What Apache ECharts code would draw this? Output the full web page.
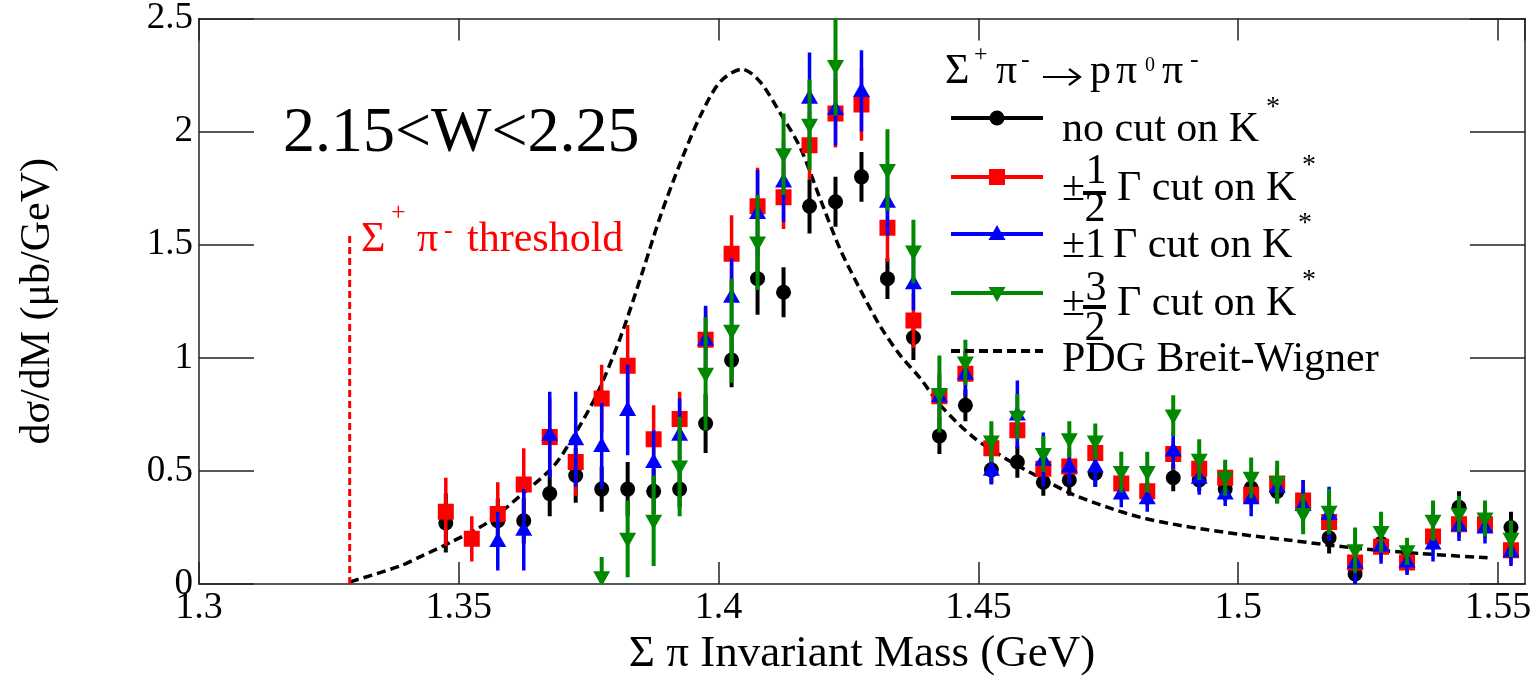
<!DOCTYPE html>
<html><head><meta charset="utf-8">
<script src="https://cdn.jsdelivr.net/npm/echarts@6/dist/echarts.min.js"></script>
<style>html,body{margin:0;padding:0;background:#fff}#chart{width:1539px;height:682px}</style>
</head><body><div id="chart"></div>
<script>
// ---- data ----
const mass = [1.3475, 1.3525, 1.3575, 1.3625, 1.3675, 1.3725, 1.3775, 1.3825, 1.3875, 1.3925,
  1.3975, 1.4025, 1.4075, 1.4125, 1.4175, 1.4225, 1.4275, 1.4325, 1.4375, 1.4425,
  1.4475, 1.4525, 1.4575, 1.4625, 1.4675, 1.4725, 1.4775, 1.4825, 1.4875, 1.4925,
  1.4975, 1.5025, 1.5075, 1.5125, 1.5175, 1.5225, 1.5275, 1.5325, 1.5375, 1.5425,
  1.5475, 1.5525];

const noCutVal = [0.27, null, 0.28, 0.28, 0.40, 0.48, 0.42, 0.42, 0.41, 0.42,
  0.71, 0.99, 1.35, 1.29, 1.67, 1.69, 1.80, 1.35, 1.09, 0.655,
  0.79, 0.505, 0.54, 0.45, 0.46, 0.49, 0.44, 0.40, 0.47, 0.46,
  0.42, 0.425, 0.41, 0.37, 0.205, 0.045, 0.18, 0.11, 0.20, 0.34,
  0.27, 0.25];
const noCutErr = [0.13, null, 0.10, 0.10, 0.10, 0.12, 0.10, 0.12, 0.10, 0.08,
  0.13, 0.12, 0.16, 0.11, 0.12, 0.11, 0.11, 0.09, 0.10, 0.08,
  0.07, 0.06, 0.07, 0.06, 0.07, 0.06, 0.05, 0.05, 0.06, 0.05,
  0.05, 0.05, 0.05, 0.05, 0.07, 0.05, 0.05, 0.04, 0.04, 0.07,
  0.05, 0.07];

const halfVal = [0.32, 0.20, 0.31, 0.44, 0.65, 0.54, 0.82, 0.965, 0.64, 0.73,
  1.08, 1.46, 1.67, 1.71, 1.94, 2.08, 2.12, 1.575, 1.165, 0.83,
  0.93, 0.60, 0.68, 0.51, 0.52, 0.58, 0.445, 0.41, 0.575, 0.51,
  0.47, 0.395, 0.445, 0.37, 0.275, 0.095, 0.165, 0.095, 0.21, 0.265,
  0.265, 0.15];
const halfErr = [0.15, 0.10, 0.14, 0.16, 0.17, 0.15, 0.15, 0.18, 0.15, 0.12,
  0.14, 0.17, 0.17, 0.14, 0.15, 0.15, 0.16, 0.15, 0.12, 0.10,
  0.10, 0.08, 0.08, 0.07, 0.07, 0.07, 0.07, 0.06, 0.07, 0.06,
  0.06, 0.06, 0.06, 0.09, 0.08, 0.06, 0.06, 0.05, 0.06, 0.06,
  0.06, 0.06];

const oneVal = [null, null, 0.19, 0.24, 0.66, 0.64, 0.61, 0.77, 0.54, 0.66,
  1.08, 1.27, 1.64, 1.78, 2.15, 2.10, 2.18, 1.69, 1.33, 0.83,
  0.93, 0.505, 0.75, 0.55, 0.52, 0.52, 0.40, 0.38, 0.59, 0.47,
  0.40, 0.38, 0.43, 0.35, 0.31, 0.095, 0.17, 0.10, 0.18, 0.26,
  0.25, 0.145];
const oneErr = [null, null, 0.13, 0.18, 0.19, 0.21, 0.19, 0.20, 0.14, 0.16,
  0.15, 0.17, 0.19, 0.18, 0.20, 0.16, 0.18, 0.15, 0.12, 0.10,
  0.10, 0.065, 0.15, 0.12, 0.08, 0.09, 0.06, 0.06, 0.08, 0.075,
  0.055, 0.08, 0.07, 0.11, 0.12, 0.095, 0.08, 0.06, 0.08, 0.07,
  0.07, 0.065];

const threeHalfVal = [null, null, null, null, null, null, 0.03, 0.20, 0.28, 0.52,
  0.93, 1.12, 1.51, 1.90, 2.03, 2.29, null, 1.83, 1.47, 0.84,
  0.98, 0.63, 0.74, 0.575, 0.64, 0.63, 0.495, 0.495, 0.745, 0.55,
  0.47, 0.47, 0.45, 0.31, 0.32, 0.15, 0.23, 0.145, 0.28, 0.31,
  0.29, 0.20];
const threeHalfErr = [null, null, null, null, null, null, 0.09, 0.17, 0.20, 0.22,
  0.25, 0.23, 0.21, 0.18, 0.20, 0.22, null, 0.18, 0.14, 0.17,
  0.10, 0.09, 0.10, 0.08, 0.08, 0.08, 0.09, 0.09, 0.09, 0.09,
  0.08, 0.09, 0.095, 0.09, 0.10, 0.10, 0.09, 0.06, 0.09, 0.08,
  0.08, 0.08];

const bwMass = [1.3291, 1.3387, 1.3425, 1.3489, 1.3554, 1.3618, 1.3682, 1.3720, 1.3766, 1.3811,
  1.3855, 1.3887, 1.3926, 1.3965, 1.4003, 1.4045, 1.4080, 1.4119, 1.4157, 1.4196,
  1.4234, 1.4273, 1.4311, 1.4350, 1.4388, 1.4427, 1.4490, 1.4556, 1.4619, 1.4683,
  1.4748, 1.4812, 1.4875, 1.4941, 1.5004, 1.5095, 1.5222, 1.5351, 1.5480];
const bwVal = [0.01, 0.08, 0.12, 0.19, 0.27, 0.39, 0.52, 0.65, 0.84, 1.09,
  1.39, 1.62, 1.86, 2.07, 2.22, 2.276, 2.22, 2.08, 1.93, 1.70,
  1.48, 1.30, 1.14, 1.01, 0.91, 0.79, 0.65, 0.55, 0.47, 0.395,
  0.34, 0.295, 0.265, 0.24, 0.22, 0.195, 0.16, 0.135, 0.116];

const thresholdMass = 1.3290;
const thresholdTop = 1.55;

const xTicks = { min: 1.3, max: 1.5552, step: 0.05 };
const yTicks = { min: 0, max: 2.5, step: 0.5 };

// ---- styles ----
const FONT = "'Liberation Serif', 'Times New Roman', serif";
const AX = '#222';
const C_BLACK = '#000000', C_RED = '#ff0000', C_BLUE = '#0000ff', C_GREEN = '#008800';

function pack(vals, errs) {
  const out = [];
  for (let i = 0; i < mass.length; i++) if (vals[i] != null) out.push([mass[i], vals[i], errs[i]]);
  return out;
}

function markerEl(kind, cx, cy, color) {
  if (kind === 'circle') return { type: 'circle', shape: { cx, cy, r: 7.5 }, style: { fill: color } };
  if (kind === 'square') return { type: 'rect', shape: { x: cx - 8, y: cy - 8, width: 16, height: 16 }, style: { fill: color } };
  if (kind === 'up') return { type: 'polygon', shape: { points: [[cx, cy - 9], [cx - 8.5, cy + 6], [cx + 8.5, cy + 6]] }, style: { fill: color } };
  return { type: 'polygon', shape: { points: [[cx, cy + 9], [cx - 8.5, cy - 6], [cx + 8.5, cy - 6]] }, style: { fill: color } };
}

function errSeries(name, vals, errs, kind, color, lw) {
  return {
    type: 'custom', name, clip: true, data: pack(vals, errs),
    encode: { x: 0, y: 1 },
    renderItem: function (params, api) {
      const x = api.value(0), y = api.value(1), e = api.value(2);
      const p = api.coord([x, y]);
      const hi = api.coord([x, y + e]);
      const lo = api.coord([x, y - e]);
      return {
        type: 'group',
        children: [
          { type: 'line', shape: { x1: p[0], y1: hi[1], x2: p[0], y2: lo[1] }, style: { stroke: color, lineWidth: lw } },
          markerEl(kind, p[0], p[1], color)
        ]
      };
    }
  };
}

function T(text, x, baseline, size, color, align, extra) {
  const el = {
    type: 'text', x: x, y: baseline - 0.30 * size, z: 100,
    style: { text: text, font: size + 'px ' + FONT, fill: color || '#000', textAlign: align || 'left', textVerticalAlign: 'middle' }
  };
  if (extra) Object.assign(el, extra);
  return el;
}

function legendLine(y, color, dashed) {
  return { type: 'line', z: 100, shape: { x1: 951, y1: y, x2: 1043, y2: y },
    style: { stroke: color, lineWidth: 4, lineDash: dashed ? [9, 5] : null } };
}
function legendMarker(kind, y, color) {
  const m = markerEl(kind, 997, y, color); m.z = 101; return m;
}
function fracBar(y) {
  return { type: 'rect', z: 100, shape: { x: 1083, y: y - 2, width: 23, height: 4 }, style: { fill: '#000' } };
}

const xLabelFmt = function (v) {
  const k = v / xTicks.step;
  if (Math.abs(k - Math.round(k)) > 1e-6) return '';
  return String(Math.round(v * 100) / 100);
};

const axisCommon = {
  axisLine: { show: true, onZero: false, lineStyle: { color: AX, width: 1.5 } },
  splitLine: { show: false }
};

const chart = echarts.init(document.getElementById('chart'), null, { renderer: 'canvas' });
chart.setOption({
  animation: false,
  backgroundColor: '#ffffff',
  grid: { left: 199, right: 14, top: 17, bottom: 80, containLabel: false },
  xAxis: [
    Object.assign({}, axisCommon, {
      type: 'value', min: xTicks.min, max: xTicks.max, interval: xTicks.step, position: 'bottom',
      axisTick: { inside: true, length: 22, lineStyle: { color: AX, width: 1.5 } },
      axisLabel: { fontFamily: FONT, fontSize: 38, color: '#000', margin: 5, formatter: xLabelFmt, showMaxLabel: false },
      name: 'Σ π Invariant Mass (GeV)', nameLocation: 'middle', nameGap: 34,
      nameTextStyle: { fontFamily: FONT, fontSize: 45, color: '#000' }
    }),
    Object.assign({}, axisCommon, {
      type: 'value', min: xTicks.min, max: xTicks.max, interval: xTicks.step, position: 'top',
      axisTick: { inside: true, length: 22, lineStyle: { color: AX, width: 1.5 } },
      axisLabel: { show: false }
    })
  ],
  yAxis: [
    Object.assign({}, axisCommon, {
      type: 'value', min: yTicks.min, max: yTicks.max, interval: yTicks.step, position: 'left',
      axisTick: { inside: true, length: 55, lineStyle: { color: AX, width: 1.5 } },
      axisLabel: { fontFamily: FONT, fontSize: 37, color: '#000', margin: 6 },
      name: 'dσ/dM (μb/GeV)', nameLocation: 'middle', nameGap: 140,
      nameTextStyle: { fontFamily: FONT, fontSize: 42, color: '#000' }
    }),
    Object.assign({}, axisCommon, {
      type: 'value', min: yTicks.min, max: yTicks.max, interval: yTicks.step, position: 'right',
      axisTick: { inside: true, length: 55, lineStyle: { color: AX, width: 1.5 } },
      axisLabel: { show: false }
    })
  ],
  series: [
    {
      type: 'line', name: 'PDG Breit-Wigner', smooth: 0.3, showSymbol: false, symbol: 'none',
      data: bwMass.map((m, i) => [m, bwVal[i]]),
      lineStyle: { color: '#000', width: 3.5, type: [9, 5] }, z: 1
    },
    {
      type: 'line', name: 'threshold', showSymbol: false, symbol: 'none',
      data: [[thresholdMass, 0], [thresholdMass, thresholdTop]],
      lineStyle: { color: C_RED, width: 3, type: [7, 4] }, z: 1
    },
    errSeries('no cut on K*', noCutVal, noCutErr, 'circle', C_BLACK, 4),
    errSeries('±1/2 Γ cut on K*', halfVal, halfErr, 'square', C_RED, 3.5),
    errSeries('±1 Γ cut on K*', oneVal, oneErr, 'up', C_BLUE, 3.5),
    errSeries('±3/2 Γ cut on K*', threeHalfVal, threeHalfErr, 'down', C_GREEN, 4)
  ],
  graphic: [
    T('2.15<W<2.25', 283, 153, 64),
    // threshold label
    T('Σ', 361, 253, 42, C_RED), T('+', 391, 221, 26, C_RED), T('π', 417, 253, 42, C_RED),
    T('-', 444, 239, 26, C_RED), T('threshold', 467, 253, 42, C_RED),
    // legend header
    T('Σ', 945, 85, 42), T('+', 974, 62, 24), T('π', 996, 85, 42), T('-', 1021, 68, 26),
    { type: 'line', z: 100, shape: { x1: 1043, y1: 77, x2: 1079, y2: 77 }, style: { stroke: '#000', lineWidth: 2.2 } },
    { type: 'polyline', z: 100, shape: { points: [[1069, 69], [1080, 77], [1069, 85]] }, style: { stroke: '#000', lineWidth: 2.2, fill: null } },
    T('p', 1090, 85, 42), T('π', 1116, 85, 42), T('0', 1145, 72, 20),
    T('π', 1162, 85, 42), T('-', 1190, 68, 26),
    // entry 1
    legendLine(118, C_BLACK), legendMarker('circle', 118, C_BLACK),
    T('no cut on K', 1062, 143, 42), T('*', 1266, 116, 28),
    // entry 2
    legendLine(177, C_RED), legendMarker('square', 177, C_RED),
    T('±', 1062, 202, 42), T('1', 1096, 185, 42, '#000', 'center'), fracBar(193),
    T('2', 1095, 223, 42, '#000', 'center'), T('Γ cut on K', 1117, 202, 42), T('*', 1302, 174, 28),
    // entry 3
    legendLine(234, C_BLUE), legendMarker('up', 234, C_BLUE),
    T('±1', 1062, 259, 42), T('Γ cut on K', 1113, 259, 42), T('*', 1298, 232, 28),
    // entry 4
    legendLine(293, C_GREEN), legendMarker('down', 293, C_GREEN),
    T('±', 1062, 317, 42), T('3', 1096, 302, 42, '#000', 'center'), fracBar(307),
    T('2', 1095, 342, 42, '#000', 'center'), T('Γ cut on K', 1117, 317, 42), T('*', 1302, 289, 28),
    // entry 5
    legendLine(351, C_BLACK, true),
    T('PDG Breit-Wigner', 1062, 373, 42)
  ]
});
</script>
</body></html>
